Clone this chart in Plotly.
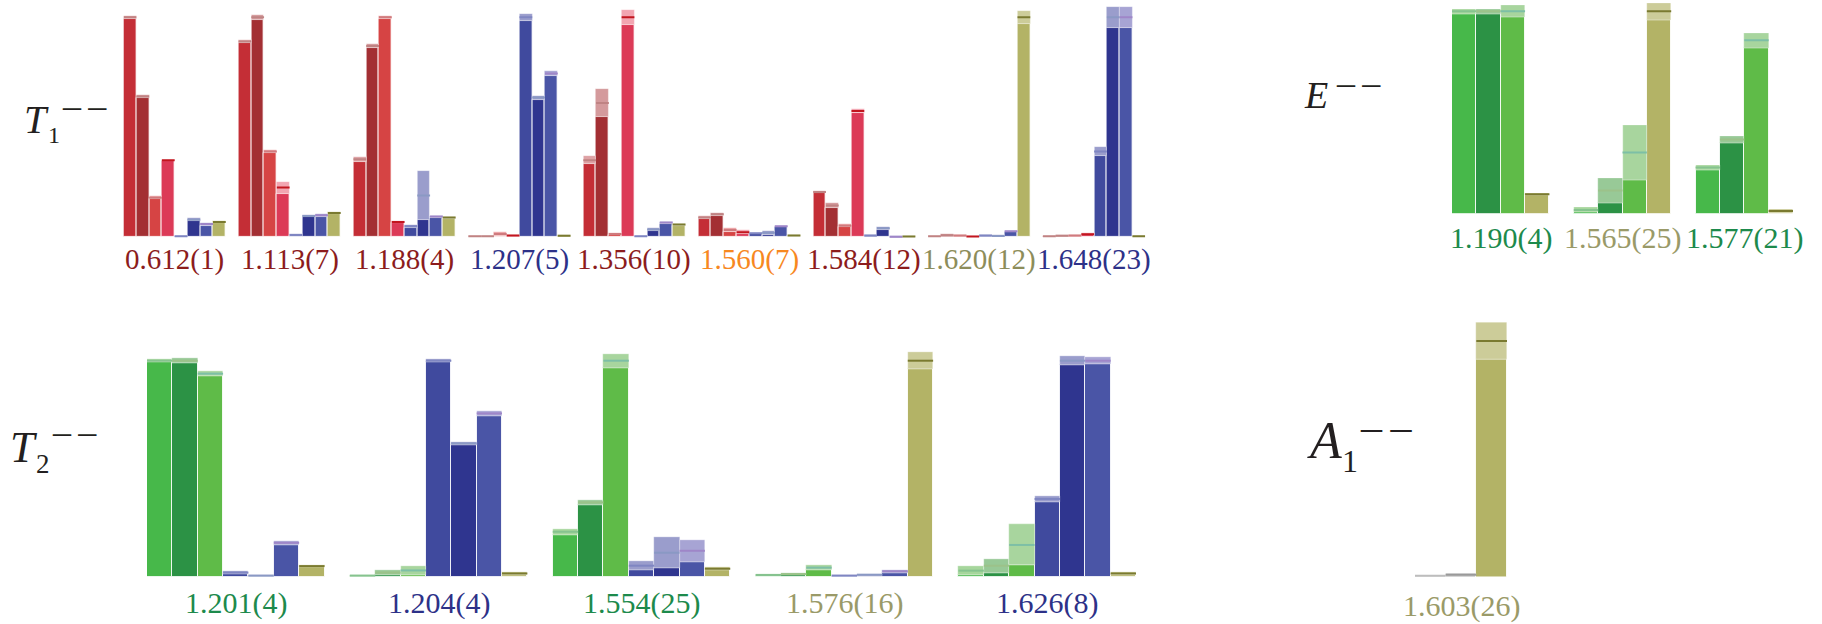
import plotly.graph_objects as go

W, H = 1822, 624

# ---------------- data ----------------
# T1-- : nine states, eight operator overlaps each (value, uncertainty)
t1_labels = ["0.612(1)", "1.113(7)", "1.188(4)", "1.207(5)", "1.356(10)",
             "1.560(7)", "1.584(12)", "1.620(12)", "1.648(23)"]
t1_label_colors = ["#8c1c1c", "#8c1c1c", "#8c1c1c", "#2d3188", "#8c1c1c",
                   "#f7881f", "#8c1c1c", "#8d8d5a", "#2d3188"]
t1_values = [
    [1.00, 0.64, 0.18, 0.35, 0.005, 0.08, 0.06, 0.07],
    [0.89, 1.00, 0.39, 0.226, 0.01, 0.097, 0.10, 0.11],
    [0.355, 0.87, 1.00, 0.07, 0.05, 0.19, 0.094, 0.09],
    [0.005, 0.005, 0.015, 0.008, 1.00, 0.635, 0.745, 0.007],
    [0.35, 0.61, 0.015, 1.00, 0.005, 0.036, 0.067, 0.058],
    [0.09, 0.105, 0.033, 0.023, 0.018, 0.021, 0.05, 0.008],
    [0.206, 0.145, 0.053, 0.574, 0.008, 0.041, 0.002, 0.004],
    [0.005, 0.009, 0.008, 0.004, 0.008, 0.006, 0.027, 1.00],
    [0.005, 0.007, 0.008, 0.014, 0.39, 1.00, 1.00, 0.005],
]
t1_errors = [
    [0.006, 0.006, 0.006, 0.004, 0.003, 0.006, 0.006, 0.004],
    [0.008, 0.012, 0.006, 0.028, 0.004, 0.006, 0.006, 0.005],
    [0.011, 0.009, 0.007, 0.006, 0.008, 0.110, 0.005, 0.005],
    [0.003, 0.003, 0.008, 0.004, 0.015, 0.009, 0.011, 0.003],
    [0.018, 0.063, 0.005, 0.034, 0.003, 0.005, 0.004, 0.004],
    [0.007, 0.006, 0.010, 0.009, 0.004, 0.008, 0.004, 0.003],
    [0.005, 0.011, 0.006, 0.010, 0.004, 0.006, 0.006, 0.003],
    [0.003, 0.005, 0.005, 0.003, 0.004, 0.004, 0.004, 0.030],
    [0.003, 0.004, 0.005, 0.005, 0.020, 0.046, 0.047, 0.003],
]

# E-- : three states, four operators
e_labels = ["1.190(4)", "1.565(25)", "1.577(21)"]
e_label_colors = ["#1d8a4c", "#9a9a68", "#1d8a4c"]
e_values = [
    [1.00, 1.00, 1.00, 0.099],
    [0.021, 0.117, 0.304, 1.00],
    [0.23, 0.368, 0.857, 0.016],
]
e_errors = [
    [0.012, 0.012, 0.029, 0.007],
    [0.012, 0.063, 0.134, 0.042],
    [0.011, 0.017, 0.037, 0.011],
]

# T2-- : five states, seven operators
t2_labels = ["1.201(4)", "1.204(4)", "1.554(25)", "1.576(16)", "1.626(8)"]
t2_label_colors = ["#1d8a4c", "#2d3188", "#1d8a4c", "#9a9a68", "#2d3188"]
t2_values = [
    [1.00, 1.00, 0.94, 0.019, 0.005, 0.157, 0.049],
    [0.005, 0.019, 0.029, 1.00, 0.617, 0.756, 0.015],
    [0.208, 0.344, 1.00, 0.051, 0.111, 0.12, 0.037],
    [0.008, 0.012, 0.042, 0.005, 0.009, 0.025, 1.00],
    [0.028, 0.051, 0.147, 0.36, 1.00, 1.00, 0.015],
]
t2_errors = [
    [0.008, 0.011, 0.011, 0.008, 0.004, 0.009, 0.005],
    [0.004, 0.013, 0.020, 0.008, 0.008, 0.011, 0.007],
    [0.014, 0.012, 0.032, 0.021, 0.073, 0.051, 0.006],
    [0.005, 0.005, 0.010, 0.004, 0.005, 0.006, 0.039],
    [0.020, 0.032, 0.095, 0.013, 0.022, 0.018, 0.007],
]

# A1-- : one state, three operators
a1_labels = ["1.603(26)"]
a1_label_colors = ["#9a9a68"]
a1_values = [[0.005, 0.01, 1.00]]
a1_errors = [[0.003, 0.005, 0.079]]

# irrep names: (letter, subscript, superscript)
irrep_names = {
    "T1": ("T", "1", "\u2013\u2009\u2013"),
    "E": ("E", None, "\u2013\u2009\u2013"),
    "T2": ("T", "2", "\u2013\u2009\u2013"),
    "A1": ("A", "1", "\u2013\u2009\u2013"),
}

# operator styles: (bar, uncertainty band, central line)
RED = ("#c42e36", "#dea2a5", "#c08383")
DRED = ("#a32f33", "#d49a9c", "#bf8383")
LRED = ("#d64444", "#eda3a6", "#cf7b7e")
PRED = ("#dc3a57", "#f2a5b1", "#c2161f")
BLUE1 = ("#404a9e", "#9a9dcc", "#7f86c2")
DBLUE = ("#2f358f", "#9a9dcc", "#8a99c4")
BLUE = ("#4a55a6", "#a7a4d4", "#9f86c8")
OLIVE = ("#b3b366", "#cccc99", "#7a7a30")
GREEN = ("#47b84a", "#a6d69c", "#86c38f")
DGREEN = ("#2c9245", "#98c997", "#9cc28a")
LGREEN = ("#5fbb48", "#a8d59e", "#7dbfa6")
GRAY1 = ("#c6c6c6", "#dddddd", "#bdbdbd")
GRAY2 = ("#a8a8a8", "#c4c4c4", "#9a9a9a")

t1_styles = [RED, DRED, LRED, PRED, BLUE1, DBLUE, BLUE, OLIVE]
e_styles = [GREEN, DGREEN, LGREEN, OLIVE]
t2_styles = [GREEN, DGREEN, LGREEN, BLUE1, DBLUE, BLUE, OLIVE]
a1_styles = [GRAY1, GRAY2, OLIVE]

SERIF = "Liberation Serif"
INK = "#231f20"


def fx(p):
    return p / W


def fy(p):
    return 1 - p / H


fig = go.Figure()

# panel geometry in pixels: x0, x1, baseline, pixels per unit overlap
# name geometry: letter (x, baseline, size), subscript (x, baseline, size), dashes (x, y, size)
panels = [
    dict(name="1", labels=t1_labels, lc=t1_label_colors, vals=t1_values, errs=t1_errors,
         styles=t1_styles, x0=123.6, x1=1145.2, base=237.3, scale=220, lo=-0.02, hi=1.07,
         label_y=259, label_size=29, title="T1",
         letter=(22, 133, 40), sub=(46, 143, 24), sup=(60, 109, 36)),
    dict(name="2", labels=e_labels, lc=e_label_colors, vals=e_values, errs=e_errors,
         styles=e_styles, x0=1452, x1=1793, base=214.3, scale=203, lo=-0.02, hi=1.05,
         label_y=238, label_size=30, title="E",
         letter=(1302, 108, 38), sub=None, sup=(1334, 86, 36)),
    dict(name="3", labels=t2_labels, lc=t2_label_colors, vals=t2_values, errs=t2_errors,
         styles=t2_styles, x0=147, x1=1136, base=576.7, scale=216, lo=-0.02, hi=1.1,
         label_y=603, label_size=30, title="T2",
         letter=(8, 462, 44), sub=(34, 473, 27), sup=(50, 435, 36)),
    dict(name="4", labels=a1_labels, lc=a1_label_colors, vals=a1_values, errs=a1_errors,
         styles=a1_styles, x0=1415, x1=1507, base=577, scale=236, lo=-0.02, hi=1.1,
         label_y=606, label_size=30, title="A1",
         letter=(1305, 458, 52), sub=(1340, 472, 32), sup=(1358, 431, 42)),
]


def text_at(x, y_center, text, size, italic=False):
    return dict(x=fx(x), y=fy(y_center), xref="paper", yref="paper", showarrow=False,
                xanchor="left", yanchor="middle",
                text="<i>%s</i>" % text if italic else text,
                font=dict(family=SERIF, size=size, color=INK))


annotations = []
for p in panels:
    nb = len(p["styles"])
    ng = len(p["vals"])
    nslots = ng * (nb + 1) - 1
    xa = "x" if p["name"] == "1" else "x" + p["name"]
    ya = "y" if p["name"] == "1" else "y" + p["name"]

    xs, solid, band_base, band_h, cbar, cband = [], [], [], [], [], []
    line_x = {i: [] for i in range(nb)}
    line_y = {i: [] for i in range(nb)}
    for g, (vals, errs) in enumerate(zip(p["vals"], p["errs"])):
        for b, (v, e) in enumerate(zip(vals, errs)):
            x = g * (nb + 1) + b
            xs.append(x)
            solid.append(max(v - e, 0))
            band_base.append(v - e)
            band_h.append(2 * e)
            cbar.append(p["styles"][b][0])
            cband.append(p["styles"][b][1])
            line_x[b] += [x - 0.5, x + 0.5, None]
            line_y[b] += [v, v, None]
        annotations.append(dict(
            x=g * (nb + 1) + (nb - 1) / 2, xref=xa, y=fy(p["label_y"]), yref="paper",
            text=p["labels"][g], showarrow=False, xanchor="center", yanchor="middle",
            font=dict(family=SERIF, size=p["label_size"], color=p["lc"][g])))

    fig.add_trace(go.Bar(x=xs, y=solid, base=0, width=1, xaxis=xa, yaxis=ya,
                         marker=dict(color=cbar, line=dict(color="rgba(255,255,255,0.85)", width=1)),
                         showlegend=False, hoverinfo="skip"))
    fig.add_trace(go.Bar(x=xs, y=band_h, base=band_base, width=1, xaxis=xa, yaxis=ya,
                         marker=dict(color=cband, line=dict(color="rgba(255,255,255,0.6)", width=0.5)),
                         showlegend=False, hoverinfo="skip"))
    for b in range(nb):
        fig.add_trace(go.Scatter(x=line_x[b], y=line_y[b], mode="lines", xaxis=xa, yaxis=ya,
                                 line=dict(color=p["styles"][b][2], width=2),
                                 showlegend=False, hoverinfo="skip"))

    axkey = "xaxis" if p["name"] == "1" else "xaxis" + p["name"]
    aykey = "yaxis" if p["name"] == "1" else "yaxis" + p["name"]
    fig.layout[axkey] = dict(domain=[fx(p["x0"]), fx(p["x1"])], range=[-0.5, nslots - 0.5],
                             visible=False, fixedrange=True)
    fig.layout[aykey] = dict(domain=[fy(p["base"] - p["lo"] * p["scale"]),
                                     fy(p["base"] - p["hi"] * p["scale"])],
                             range=[p["lo"], p["hi"]], visible=False, fixedrange=True)

    # irrep name to the left of the panel (text centred about baseline - 0.34 em)
    letter, sub, sup = irrep_names[p["title"]]
    lx, lb, ls = p["letter"]
    annotations.append(text_at(lx, lb - 0.34 * ls, letter, ls, italic=True))
    if sub:
        sx, sb, ss = p["sub"]
        annotations.append(text_at(sx, sb - 0.34 * ss, sub, ss))
    dx, dy, ds = p["sup"]
    annotations.append(text_at(dx, dy + 0.25 * ds - 0.34 * ds, sup, ds))

fig.update_layout(
    width=W, height=H, margin=dict(l=0, r=0, t=0, b=0),
    paper_bgcolor="white", plot_bgcolor="rgba(0,0,0,0)",
    barmode="overlay", bargap=0, showlegend=False,
    annotations=annotations,
)

fig.write_html("out.html")
